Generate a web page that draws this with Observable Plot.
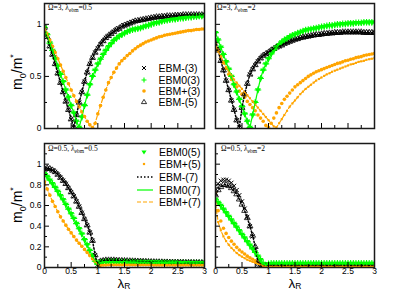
<!DOCTYPE html>
<html><head><meta charset="utf-8">
<script src="https://cdn.jsdelivr.net/npm/d3@7"></script>
<script src="https://cdn.jsdelivr.net/npm/@observablehq/plot@0.6"></script>
<style>
body{margin:0;background:#fff}
#root{position:relative;width:411px;height:291px;overflow:hidden;background:#fff}
.svgp{position:absolute}
.ann{position:absolute;font-family:"Liberation Serif",serif;font-size:7.5px;white-space:nowrap;line-height:1}
.ann sub{font-size:5.5px;vertical-align:-2px;line-height:0}
.leg{position:absolute;font-family:"Liberation Sans",Arial,sans-serif;font-size:10.5px;color:#000}
.row{display:flex;align-items:center;white-space:nowrap}
.row svg{flex:none;margin-right:4px}
.ylab{position:absolute;font-family:"Liberation Sans",Arial,sans-serif;font-size:14px;white-space:nowrap;transform:translate(-50%,-50%) rotate(-90deg);line-height:1}
.ylab sub,.ylab sup{font-size:9px;line-height:0}
.xlab{position:absolute;font-family:"Liberation Sans",Arial,sans-serif;font-size:13.5px;white-space:nowrap;transform:translateX(-50%);line-height:13px;height:14px}
.xlab sub{font-size:8.5px;line-height:0;vertical-align:-1px}
</style></head>
<body><div id="root"></div>
<script>
// ---------------- data ----------------
const xs = [0,0.05,0.1,0.15,0.2,0.25,0.3,0.35,0.4,0.45,0.5,0.55,0.6,0.65,0.7,0.75,0.8,0.85,0.9,0.95,1,1.05,1.1,1.15,1.2,1.25,1.3,1.35,1.4,1.45,1.5,1.55,1.6,1.65,1.7,1.75,1.8,1.85,1.9,1.95,2,2.05,2.1,2.15,2.2,2.25,2.3,2.35,2.4,2.45,2.5,2.55,2.6,2.65,2.7,2.75,2.8,2.85,2.9,2.95,3];

// Omega=3, lambda_ebm=0.5
const tlMinus = [0.97,0.88,0.79,0.71,0.62,0.53,0.44,0.35,0.26,0.18,0.09,0.01,
  0.13,0.25,0.35,0.45,0.54,0.62,0.68,0.73,0.77,
  0.81,0.84,0.87,0.89,0.91,0.93,0.95,0.96,0.98,0.99,
  1.0,1.01,1.02,1.03,1.035,1.04,1.045,1.05,1.055,1.06,
  1.065,1.07,1.07,1.075,1.075,1.08,1.08,1.08,1.085,1.085,
  1.085,1.09,1.09,1.09,1.09,1.09,1.09,1.09,1.09,1.09];
const tlZero = [0.97,0.90,0.82,0.75,0.67,0.60,0.52,0.45,0.37,0.30,0.22,0.15,0.07,0.01,
  0.11,0.22,0.32,0.42,0.50,0.56,0.62,
  0.665,0.71,0.75,0.785,0.815,0.845,0.865,0.885,0.90,0.915,
  0.93,0.94,0.95,0.955,0.96,0.965,0.975,0.985,0.99,1.0,
  1.01,1.015,1.02,1.03,1.035,1.04,1.045,1.05,1.05,1.055,
  1.06,1.06,1.065,1.07,1.07,1.075,1.075,1.08,1.08,1.08];
const tlPlus = [0.97,0.91,0.85,0.79,0.73,0.67,0.61,0.55,0.49,0.43,0.37,0.315,0.26,0.21,0.16,0.115,0.07,0.035,0.01,
  0.05,0.14,
  0.22,0.30,0.37,0.44,0.49,0.54,0.58,0.62,0.65,0.675,
  0.70,0.72,0.745,0.765,0.785,0.80,0.815,0.83,0.84,0.85,
  0.86,0.87,0.88,0.885,0.895,0.90,0.905,0.91,0.915,0.92,
  0.925,0.93,0.935,0.94,0.94,0.945,0.95,0.95,0.955,0.955];

// Omega=3, lambda_ebm=2
const trMinus = [0.84,0.75,0.65,0.56,0.46,0.37,0.27,0.18,0.08,0.01,
  0.20,0.33,0.43,0.52,0.57,0.61,0.645,0.675,0.70,0.715,0.73,
  0.75,0.765,0.78,0.79,0.80,0.815,0.825,0.835,0.845,0.855,
  0.86,0.87,0.875,0.88,0.885,0.89,0.895,0.90,0.90,0.905,
  0.91,0.91,0.915,0.915,0.92,0.92,0.92,0.925,0.925,0.925,
  0.925,0.925,0.925,0.925,0.925,0.92,0.92,0.92,0.92,0.92];
const trZero = [0.92,0.85,0.78,0.71,0.64,0.57,0.50,0.42,0.35,0.28,0.21,0.14,0.07,0.01,
  0.13,0.25,0.37,0.48,0.56,0.62,0.67,
  0.715,0.75,0.78,0.805,0.83,0.85,0.865,0.88,0.895,0.905,
  0.915,0.925,0.935,0.945,0.95,0.955,0.96,0.965,0.97,0.975,
  0.98,0.985,0.99,0.99,0.995,1.0,1.0,1.005,1.005,1.01,
  1.01,1.01,1.015,1.015,1.015,1.02,1.02,1.02,1.02,1.02];
const trPlus3 = [0.81,0.75,0.69,0.63,0.58,0.52,0.47,0.43,0.40,0.36,0.33,0.30,0.26,0.23,0.20,0.17,0.13,0.10,0.07,0.03,0.01,
  0.05,0.10,0.15,0.20,0.24,0.28,0.31,0.34,0.37,0.40,
  0.42,0.44,0.46,0.48,0.50,0.515,0.53,0.545,0.555,0.565,
  0.575,0.585,0.595,0.605,0.615,0.625,0.63,0.64,0.65,0.655,
  0.665,0.67,0.68,0.685,0.69,0.70,0.705,0.71,0.715,0.72];
const trPlus5 = [0.80,0.74,0.69,0.64,0.59,0.55,0.51,0.47,0.44,0.41,0.38,0.35,0.32,0.29,0.26,0.23,0.20,0.17,0.14,0.11,0.08,0.05,0.02,0.01,
  0.05,0.09,0.13,0.17,0.21,0.24,0.27,
  0.30,0.33,0.355,0.38,0.40,0.42,0.44,0.46,0.475,0.49,
  0.505,0.52,0.53,0.545,0.555,0.565,0.575,0.585,0.595,0.605,
  0.615,0.62,0.63,0.64,0.645,0.65,0.66,0.665,0.67,0.675];

// Omega=0.5, lambda_ebm=0.5
const blMinus = [0.95,0.96,0.955,0.94,0.925,0.90,0.87,0.84,0.81,0.77,0.73,0.69,0.64,0.59,0.53,0.47,0.41,0.34,0.26,0.12,0.01,
  0.06,0.065,0.07,0.07,0.07,0.07,0.068,0.066,0.065,0.064,
  0.063,0.062,0.061,0.06,0.059,0.058,0.057,0.056,0.055,0.054,
  0.053,0.052,0.052,0.051,0.05,0.05,0.049,0.049,0.048,0.048,
  0.047,0.047,0.046,0.046,0.046,0.045,0.045,0.045,0.044,0.044];
const blZero = [0.91,0.88,0.845,0.81,0.775,0.735,0.695,0.655,0.61,0.565,0.52,0.475,0.425,0.375,0.325,0.27,0.22,0.165,0.11,0.06,0.03,
  0.05,0.055,0.057,0.058,0.058,0.058,0.057,0.057,0.056,0.056,
  0.055,0.055,0.054,0.054,0.053,0.053,0.052,0.052,0.051,0.051,
  0.05,0.05,0.05,0.049,0.049,0.049,0.048,0.048,0.048,0.047,
  0.047,0.047,0.046,0.046,0.046,0.045,0.045,0.045,0.045,0.044];
const blPlus = [0.83,0.76,0.70,0.64,0.59,0.54,0.49,0.45,0.41,0.37,0.335,0.30,0.265,0.235,0.205,0.175,0.145,0.115,0.085,0.055,0.03,
  0.022,0.024,0.025,0.026,0.026,0.026,0.026,0.026,0.026,0.026,
  0.026,0.026,0.026,0.026,0.026,0.026,0.026,0.026,0.026,0.026,
  0.025,0.025,0.025,0.025,0.025,0.025,0.025,0.025,0.025,0.025,
  0.025,0.025,0.025,0.025,0.025,0.025,0.025,0.025,0.025,0.025];

// Omega=0.5, lambda_ebm=2
const brMinus3 = [0.76,0.81,0.84,0.85,0.85,0.84,0.82,0.79,0.75,0.70,0.64,0.57,0.49,0.40,0.30,0.18,0.03,0.02,0.02,0.02,0.02,
  0.02,0.02,0.02,0.02,0.02,0.02,0.02,0.02,0.02,0.02,
  0.02,0.02,0.02,0.02,0.02,0.02,0.02,0.02,0.02,0.02,
  0.02,0.02,0.02,0.02,0.02,0.02,0.02,0.02,0.02,0.02,
  0.02,0.02,0.02,0.02,0.02,0.02,0.02,0.02,0.02,0.02];
const brMinus5 = [0.70,0.75,0.78,0.80,0.80,0.79,0.77,0.74,0.71,0.66,0.61,0.55,0.48,0.40,0.31,0.20,0.05,0.02,0.02,0.02,0.02,
  0.02,0.02,0.02,0.02,0.02,0.02,0.02,0.02,0.02,0.02,
  0.02,0.02,0.02,0.02,0.02,0.02,0.02,0.02,0.02,0.02,
  0.02,0.02,0.02,0.02,0.02,0.02,0.02,0.02,0.02,0.02,
  0.02,0.02,0.02,0.02,0.02,0.02,0.02,0.02,0.02,0.02];
const brZero = [0.66,0.63,0.60,0.565,0.53,0.495,0.46,0.425,0.39,0.355,0.32,0.285,0.25,0.215,0.18,0.145,0.11,0.075,0.04,0.02,0.035,
  0.04,0.04,0.04,0.04,0.04,0.04,0.04,0.04,0.04,0.04,
  0.04,0.04,0.04,0.04,0.04,0.04,0.04,0.04,0.04,0.04,
  0.04,0.04,0.04,0.04,0.04,0.04,0.04,0.04,0.04,0.04,
  0.04,0.04,0.04,0.04,0.04,0.04,0.04,0.04,0.04,0.04];
const brPlus3 = [0.72,0.55,0.45,0.38,0.33,0.29,0.255,0.225,0.195,0.17,0.15,0.13,0.11,0.095,0.08,0.065,0.05,0.035,0.025,0.015,0.01,
  0.01,0.01,0.01,0.01,0.01,0.01,0.01,0.01,0.01,0.01,
  0.01,0.01,0.01,0.01,0.01,0.01,0.01,0.01,0.01,0.01,
  0.01,0.01,0.01,0.01,0.01,0.01,0.01,0.01,0.01,0.01,
  0.01,0.01,0.01,0.01,0.01,0.01,0.01,0.01,0.01,0.01];
const brPlus5 = [0.62,0.44,0.36,0.30,0.255,0.22,0.19,0.165,0.14,0.12,0.105,0.09,0.075,0.065,0.055,0.045,0.035,0.025,0.015,0.01,0.01,
  0.01,0.01,0.01,0.01,0.01,0.01,0.01,0.01,0.01,0.01,
  0.01,0.01,0.01,0.01,0.01,0.01,0.01,0.01,0.01,0.01,
  0.01,0.01,0.01,0.01,0.01,0.01,0.01,0.01,0.01,0.01,
  0.01,0.01,0.01,0.01,0.01,0.01,0.01,0.01,0.01,0.01];

const seriesNames = ["EBM-(3)","EBM0(3)","EBM+(3)","EBM-(5)","EBM0(5)","EBM+(5)","EBM-(7)","EBM0(7)","EBM+(7)"];
const panelTitles = {tl:["3","0.5"], tr:["3","2"], bl:["0.5","0.5"], br:["0.5","2"]};
const panelSeries = {
  tl: {"EBM-(3)":tlMinus,"EBM0(3)":tlZero,"EBM+(3)":tlPlus,"EBM-(5)":tlMinus,"EBM0(5)":tlZero,"EBM+(5)":tlPlus,"EBM-(7)":tlMinus,"EBM0(7)":tlZero,"EBM+(7)":tlPlus},
  tr: {"EBM-(3)":trMinus,"EBM0(3)":trZero,"EBM+(3)":trPlus3,"EBM-(5)":trMinus,"EBM0(5)":trZero,"EBM+(5)":trPlus5,"EBM-(7)":trMinus,"EBM0(7)":trZero,"EBM+(7)":trPlus5},
  bl: {"EBM-(3)":blMinus,"EBM0(3)":blZero,"EBM+(3)":blPlus,"EBM-(5)":blMinus,"EBM0(5)":blZero,"EBM+(5)":blPlus,"EBM-(7)":blMinus,"EBM0(7)":blZero,"EBM+(7)":blPlus},
  br: {"EBM-(3)":brMinus3,"EBM0(3)":brZero,"EBM+(3)":brPlus3,"EBM-(5)":brMinus5,"EBM0(5)":brZero,"EBM+(5)":brPlus5,"EBM-(7)":brMinus5,"EBM0(7)":brZero,"EBM+(7)":brPlus5}
};
const legendTL = ["EBM-(3)","EBM0(3)","EBM+(3)","EBM-(5)"];
const legendBL = ["EBM0(5)","EBM+(5)","EBM-(7)","EBM0(7)","EBM+(7)"];

const xMajor = [0,0.5,1,1.5,2,2.5,3];
const xMinor = [0.25,0.75,1.25,1.75,2.25,2.75];
const xTickLabels = ["0","0.5","1","1.5","2","2.5","3"];
const yMajorTop = [0,0.5,1];
const yMinorTop = [0.25,0.75];
const yTickLabelsTop = ["0","0.5","1"];
const yMajorBot = [0,0.2,0.4,0.6,0.8,1];
const yMinorBot = [0.1,0.3,0.5,0.7,0.9,1.1];
const yTickLabelsBot = ["0","0.2","0.4","0.6","0.8","1"];

// ---------------- styles ----------------
const GREEN = "#00ff00", ORANGE = "#ffa500";
const styles = {
  "EBM-(3)": {type:"dot", symbol:"times", stroke:"black", fill:"none", r:2, strokeWidth:1},
  "EBM0(3)": {type:"dot", symbol:"plus", stroke:GREEN, fill:"none", r:2.3, strokeWidth:1.1},
  "EBM+(3)": {type:"dot", symbol:"circle", fill:ORANGE, stroke:"none", r:1.8},
  "EBM-(5)": {type:"dot", symbol:"triangle", stroke:"black", fill:"none", r:2.2, strokeWidth:0.8},
  "EBM0(5)": {type:"dot", symbol:"triangle", rotate:180, fill:GREEN, stroke:"none", r:2.2},
  "EBM+(5)": {type:"dot", symbol:"square", fill:ORANGE, stroke:"none", r:1.2},
  "EBM-(7)": {type:"line", stroke:"black", strokeWidth:1.5, strokeDasharray:"1.5,2"},
  "EBM0(7)": {type:"line", stroke:GREEN, strokeWidth:1.2},
  "EBM+(7)": {type:"line", stroke:ORANGE, strokeWidth:1.2, strokeDasharray:"4,2"}
};

const layout = {
  tl:{left:0,top:0,width:210,height:140,mL:44,mR:6,mT:3,mB:12,row:"top",yLab:true,xLab:false},
  tr:{left:205,top:0,width:175,height:140,mL:10,mR:6,mT:3,mB:12,row:"top",yLab:false,xLab:false},
  bl:{left:0,top:135,width:210,height:156,mL:44,mR:6,mT:8,mB:24,row:"bot",yLab:true,xLab:true},
  br:{left:205,top:135,width:175,height:156,mL:10,mR:6,mT:8,mB:24,row:"bot",yLab:false,xLab:true}
};
const annPos = {tl:[48,4],tr:[217,4],bl:[48,145],br:[221,145]};

const root = document.getElementById("root");

function rows(vals){
  if (vals.length !== xs.length) console.error("length mismatch", vals.length);
  return xs.map((x,i)=>({x, y: vals[i]}));
}

for (const key of ["tl","tr","bl","br"]) {
  const L = layout[key];
  const fw = L.width - L.mL - L.mR, fh = L.height - L.mT - L.mB;
  const yMaj = L.row === "top" ? yMajorTop : yMajorBot;
  const yMin = L.row === "top" ? yMinorTop : yMinorBot;
  const yLabs = L.row === "top" ? yTickLabelsTop : yTickLabelsBot;
  const marks = [];
  const dotSeries = seriesNames.filter(s => styles[s].type === "dot");
  const lineSeries = seriesNames.filter(s => styles[s].type === "line");
  for (const s of dotSeries) {
    const {type, ...st} = styles[s];
    marks.push(Plot.dot(rows(panelSeries[key][s]), {x:"x", y:"y", clip:true, ...st}));
  }
  for (const s of lineSeries) {
    const {type, ...st} = styles[s];
    marks.push(Plot.line(rows(panelSeries[key][s]), {x:"x", y:"y", clip:true, ...st}));
  }
  marks.push(Plot.ruleX(xMajor, {x:d=>d, insetTop: fh-5, stroke:"black", strokeWidth:1}));
  marks.push(Plot.ruleX(xMinor, {x:d=>d, insetTop: fh-3, stroke:"black", strokeWidth:1}));
  marks.push(Plot.ruleY(yMaj, {y:d=>d, insetRight: fw-5, stroke:"black", strokeWidth:1}));
  marks.push(Plot.ruleY(yMin, {y:d=>d, insetRight: fw-3, stroke:"black", strokeWidth:1}));
  marks.push(Plot.frame({stroke:"#1a1a1a", strokeWidth:1.5}));
  if (L.xLab) marks.push(Plot.axisX({ticks:xMajor, tickSize:0, tickPadding:0, fontSize:8.5, label:null, tickFormat:(d)=>xTickLabels[xMajor.indexOf(d)]}));
  if (L.yLab) marks.push(Plot.axisY({ticks:yMaj, tickSize:0, tickPadding:3, fontSize:8.5, label:null, tickFormat:(d)=>yLabs[yMaj.indexOf(d)]}));
  const svg = Plot.plot({
    width:L.width, height:L.height,
    marginLeft:L.mL, marginRight:L.mR, marginTop:L.mT, marginBottom:L.mB,
    x:{domain:[0,3], axis:null}, y:{domain:[0,1.2], axis:null},
    style:{background:"transparent", fontFamily:"'Liberation Sans', Arial, sans-serif", fontSize:"8.5px", color:"black"},
    marks
  });
  svg.classList.add("svgp");
  svg.style.left = L.left + "px";
  svg.style.top = L.top + "px";
  root.appendChild(svg);
  const a = document.createElement("div");
  a.className = "ann";
  a.style.left = annPos[key][0] + "px"; a.style.top = annPos[key][1] + "px";
  a.innerHTML = `Ω=${panelTitles[key][0]}, λ<sub>ebm</sub>=${panelTitles[key][1]}`;
  root.appendChild(a);
}

function symbolSVG(name){
  const st = styles[name];
  const c = 11, m = 5;
  let inner = "";
  if (st.type === "line") {
    inner = `<line x1="4" y1="${m}" x2="20" y2="${m}" stroke="${st.stroke}" stroke-width="${st.strokeWidth}" ${st.strokeDasharray?`stroke-dasharray="${st.strokeDasharray}"`:""}/>`;
  } else if (st.symbol === "times") {
    inner = `<path d="M${c-2},${m-2}L${c+2},${m+2}M${c+2},${m-2}L${c-2},${m+2}" stroke="black" stroke-width="1"/>`;
  } else if (st.symbol === "plus") {
    inner = `<path d="M${c-2.5},${m}L${c+2.5},${m}M${c},${m-2.5}L${c},${m+2.5}" stroke="${GREEN}" stroke-width="1.1"/>`;
  } else if (st.symbol === "circle") {
    inner = `<circle cx="${c}" cy="${m}" r="1.8" fill="${ORANGE}"/>`;
  } else if (st.symbol === "triangle" && st.rotate) {
    inner = `<path d="M${c-2.6},${m-1.6}L${c+2.6},${m-1.6}L${c},${m+2.6}Z" fill="${GREEN}"/>`;
  } else if (st.symbol === "triangle") {
    inner = `<path d="M${c-2.6},${m+1.6}L${c+2.6},${m+1.6}L${c},${m-2.6}Z" fill="none" stroke="black" stroke-width="0.8"/>`;
  } else if (st.symbol === "square") {
    inner = `<rect x="${c-1.1}" y="${m-1.1}" width="2.2" height="2.2" fill="${ORANGE}"/>`;
  }
  return `<svg width="22" height="10" viewBox="0 0 22 10">${inner}</svg>`;
}
function legend(names, left, top, rowH){
  const d = document.createElement("div");
  d.className = "leg";
  d.style.left = left + "px"; d.style.top = top + "px";
  d.innerHTML = names.map(n => `<div class="row" style="height:${rowH}px">${symbolSVG(n)}<span>${n}</span></div>`).join("");
  root.appendChild(d);
}
legend(legendTL, 132.5, 62.8, 11.3);
legend(legendBL, 133, 145.4, 12.65);

function addLabel(cls, html, left, top){
  const d = document.createElement("div");
  d.className = cls; d.innerHTML = html;
  d.style.left = left + "px"; d.style.top = top + "px";
  root.appendChild(d);
}
addLabel("ylab", "m<sub>0</sub>/m<sup>*</sup>", 17, 72);
addLabel("ylab", "m<sub>0</sub>/m<sup>*</sup>", 17, 205);
addLabel("xlab", "λ<sub>R</sub>", 124, 276.5);
addLabel("xlab", "λ<sub>R</sub>", 295, 276.5);
</script></body></html>
